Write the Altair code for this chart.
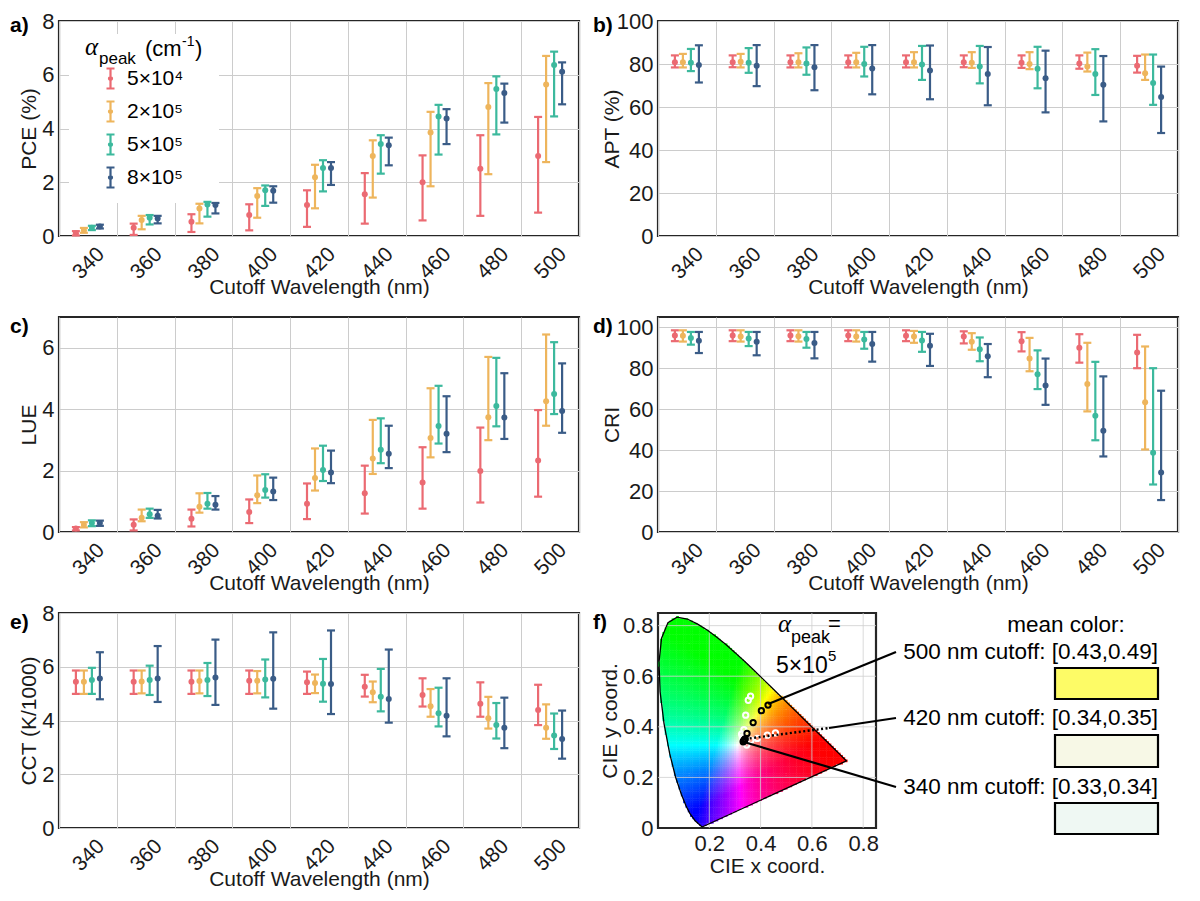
import altair as alt
import numpy as np
import pandas as pd

FONT = "Liberation Sans"

WAVELENGTHS = [340, 360, 380, 400, 420, 440, 460, 480, 500]
ALPHA_LABELS = ["5×10⁴", "2×10⁵", "5×10⁵", "8×10⁵"]
ALPHA_COLORS = ["#EB6A72", "#EEB55C", "#3CB99D", "#3A5C87"]

# one inner list per alpha_peak, in the order of ALPHA_LABELS
PCE_MEAN = [[0.10, 0.31, 0.53, 0.78, 1.15, 1.55, 2.00, 2.50, 2.98],
            [0.21, 0.60, 1.02, 1.49, 2.19, 2.98, 3.85, 4.80, 5.64],
            [0.31, 0.68, 1.17, 1.70, 2.53, 3.42, 4.45, 5.47, 6.36],
            [0.35, 0.65, 1.15, 1.68, 2.53, 3.38, 4.37, 5.32, 6.11]]
PCE_LO = [[0.02, 0.04, 0.15, 0.21, 0.34, 0.46, 0.58, 0.75, 0.87],
          [0.12, 0.25, 0.47, 0.68, 1.03, 1.43, 1.85, 2.30, 2.75],
          [0.22, 0.43, 0.72, 1.12, 1.66, 2.32, 3.03, 3.78, 4.45],
          [0.28, 0.47, 0.84, 1.24, 1.90, 2.63, 3.42, 4.22, 4.90]]
PCE_HI = [[0.18, 0.46, 0.81, 1.18, 1.70, 2.34, 3.00, 3.75, 4.43],
          [0.30, 0.75, 1.20, 1.78, 2.65, 3.56, 4.62, 5.69, 6.70],
          [0.38, 0.78, 1.27, 1.88, 2.82, 3.75, 4.88, 5.94, 6.86],
          [0.42, 0.75, 1.23, 1.85, 2.75, 3.66, 4.72, 5.67, 6.46]]

APT_MEAN = [[80.8, 80.8, 80.8, 80.8, 80.8, 80.8, 80.6, 80.2, 79.2],
            [80.8, 81.0, 80.8, 80.8, 80.8, 80.6, 80.0, 78.8, 75.7],
            [80.6, 80.6, 80.2, 80.0, 79.8, 78.8, 77.8, 75.4, 71.2],
            [79.5, 79.2, 78.5, 77.9, 77.0, 75.3, 73.4, 70.4, 64.7]]
APT_LO = [[78.4, 78.5, 78.4, 78.4, 78.4, 78.5, 78.2, 77.8, 76.0],
          [78.4, 78.4, 78.4, 78.4, 78.4, 78.2, 77.6, 76.5, 72.6],
          [76.7, 75.9, 75.0, 74.2, 72.6, 71.0, 68.7, 65.6, 61.0],
          [71.4, 69.7, 67.8, 65.9, 63.6, 60.8, 57.5, 53.3, 47.9]]
APT_HI = [[84.0, 84.0, 84.0, 84.0, 84.0, 84.0, 84.0, 84.0, 83.8],
          [84.7, 84.7, 85.0, 85.2, 85.5, 85.5, 85.5, 85.3, 84.4],
          [87.0, 87.4, 87.7, 88.0, 88.4, 88.4, 88.0, 86.9, 84.4],
          [88.7, 88.8, 88.8, 88.8, 88.6, 87.9, 86.2, 83.7, 78.8]]

LUE_MEAN = [[0.11, 0.24, 0.43, 0.65, 0.92, 1.26, 1.61, 1.99, 2.33],
            [0.24, 0.46, 0.82, 1.20, 1.76, 2.39, 3.06, 3.74, 4.26],
            [0.29, 0.58, 0.92, 1.37, 2.02, 2.68, 3.45, 4.10, 4.49],
            [0.29, 0.53, 0.89, 1.32, 1.94, 2.55, 3.20, 3.73, 3.94]]
LUE_LO = [[0.05, 0.05, 0.18, 0.29, 0.42, 0.60, 0.76, 0.96, 1.15],
          [0.15, 0.35, 0.63, 0.94, 1.35, 1.89, 2.43, 2.99, 3.46],
          [0.19, 0.46, 0.76, 1.12, 1.66, 2.24, 2.88, 3.44, 3.84],
          [0.20, 0.44, 0.73, 1.04, 1.59, 2.08, 2.60, 3.03, 3.23]]
LUE_HI = [[0.16, 0.41, 0.73, 1.06, 1.58, 2.16, 2.76, 3.40, 3.97],
          [0.32, 0.73, 1.26, 1.84, 2.72, 3.65, 4.68, 5.70, 6.43],
          [0.38, 0.76, 1.27, 1.88, 2.81, 3.70, 4.76, 5.67, 6.18],
          [0.37, 0.72, 1.17, 1.77, 2.65, 3.46, 4.42, 5.17, 5.49]]

CRI_MEAN = [[96.0, 96.0, 96.0, 96.0, 95.8, 95.5, 93.1, 90.0, 87.7],
            [95.8, 95.5, 95.6, 95.5, 95.5, 92.9, 84.7, 72.3, 63.4],
            [94.7, 94.5, 94.2, 94.0, 93.5, 89.2, 77.1, 56.8, 38.7],
            [93.4, 92.9, 92.3, 91.8, 91.0, 85.8, 71.6, 49.4, 29.0]]
CRI_LO = [[93.2, 93.2, 93.2, 93.2, 93.2, 92.1, 88.2, 82.7, 80.0],
          [93.0, 93.0, 93.0, 93.0, 92.4, 89.0, 78.5, 58.9, 40.3],
          [91.5, 90.8, 90.0, 89.5, 88.0, 83.4, 69.8, 44.8, 23.2],
          [87.4, 86.3, 84.8, 83.2, 81.1, 75.6, 62.1, 36.9, 15.6]]
CRI_HI = [[98.5, 98.5, 98.5, 98.5, 98.5, 98.0, 97.6, 96.6, 96.3],
          [98.5, 98.5, 98.5, 98.5, 98.2, 97.1, 94.8, 92.4, 90.6],
          [97.7, 97.7, 97.7, 97.7, 97.7, 95.0, 88.7, 83.1, 80.0],
          [97.7, 97.7, 97.7, 97.7, 96.8, 91.8, 84.7, 76.0, 69.0]]

CCT_MEAN = [[5.44, 5.44, 5.44, 5.48, 5.42, 5.26, 4.95, 4.62, 4.39],
            [5.44, 5.45, 5.47, 5.48, 5.40, 5.05, 4.53, 4.08, 3.73],
            [5.51, 5.51, 5.51, 5.53, 5.37, 4.88, 4.27, 3.83, 3.44],
            [5.56, 5.56, 5.60, 5.55, 5.36, 4.80, 4.18, 3.73, 3.31]]
CCT_LO = [[4.99, 4.99, 4.99, 4.99, 4.99, 4.89, 4.52, 4.14, 3.83],
          [4.99, 5.01, 5.01, 5.01, 5.02, 4.68, 4.14, 3.70, 3.32],
          [4.99, 4.95, 4.91, 4.86, 4.70, 4.34, 3.78, 3.33, 2.94],
          [4.79, 4.69, 4.58, 4.44, 4.24, 3.92, 3.41, 2.97, 2.58]]
CCT_HI = [[5.86, 5.86, 5.86, 5.86, 5.82, 5.70, 5.57, 5.42, 5.33],
          [5.86, 5.86, 5.86, 5.84, 5.71, 5.45, 5.17, 4.88, 4.60],
          [5.96, 6.04, 6.14, 6.27, 6.29, 5.92, 5.22, 4.65, 4.26],
          [6.54, 6.77, 7.01, 7.28, 7.35, 6.64, 5.57, 4.85, 4.37]]

# CIE 1931 spectral locus, 380 -> 700 nm
LOCUS_X = [0.1741, 0.1738, 0.1733, 0.1726, 0.1714, 0.1689, 0.1644, 0.1566, 0.1440, 0.1241,
           0.1096, 0.0913, 0.0687, 0.0454, 0.0235, 0.0082, 0.0039, 0.0139, 0.0389, 0.0743,
           0.1142, 0.1547, 0.1929, 0.2296, 0.2658, 0.3016, 0.3373, 0.3731, 0.4087, 0.4441,
           0.4788, 0.5125, 0.5448, 0.5752, 0.6029, 0.6270, 0.6658, 0.6915, 0.7079, 0.7190,
           0.7260, 0.7300, 0.7334, 0.7347]
LOCUS_Y = [0.0050, 0.0049, 0.0048, 0.0048, 0.0051, 0.0069, 0.0109, 0.0177, 0.0297, 0.0578,
           0.0868, 0.1327, 0.2007, 0.2950, 0.4127, 0.5384, 0.6548, 0.7502, 0.8120, 0.8338,
           0.8262, 0.8059, 0.7816, 0.7543, 0.7243, 0.6923, 0.6589, 0.6245, 0.5896, 0.5547,
           0.5202, 0.4866, 0.4544, 0.4242, 0.3965, 0.3725, 0.3340, 0.3083, 0.2920, 0.2809,
           0.2740, 0.2700, 0.2666, 0.2653]

# mean color per cutoff for alpha_peak = 5e5 (black) and the other runs (white)
CUTOFF_X = [0.332, 0.334, 0.336, 0.338, 0.340, 0.347, 0.371, 0.403, 0.429]
CUTOFF_Y = [0.341, 0.344, 0.347, 0.350, 0.352, 0.374, 0.417, 0.464, 0.486]
OTHER_X = [0.361, 0.352, 0.342, 0.335, 0.326, 0.329, 0.346, 0.362, 0.387, 0.426, 0.458]
OTHER_Y = [0.521, 0.505, 0.446, 0.389, 0.371, 0.360, 0.328, 0.347, 0.354, 0.367, 0.376]

CALLOUT_TEXT = ["500 nm cutoff: [0.43,0.49]", "420 nm cutoff: [0.34,0.35]", "340 nm cutoff: [0.33,0.34]"]
CALLOUT_XY = [(0.43, 0.49), (0.34, 0.352), (0.332, 0.341)]
SWATCH_COLORS = ["#FDFB66", "#F7F8E6", "#EFF8F3"]
CIE_TICKS = [0.2, 0.4, 0.6, 0.8]

PLOT_W = 520
PLOT_H = 215
CIE_W = 218
BAND = PLOT_W / len(WAVELENGTHS)

ERRORBAR_SYMBOL = ("M0,-1V1M-0.4,-1H0.4M-0.4,1H0.4"
                   "M-0.15,0A0.15,0.15,0,1,1,0.15,0A0.15,0.15,0,1,1,-0.15,0")


def note(text, x, y, size, align="left", baseline="alphabetic", **kw):
    return alt.Chart(pd.DataFrame({"t": [text]})).mark_text(
        align=align, baseline=baseline, fontSize=size, font=kw.pop("font", FONT), color="black", **kw
    ).encode(text="t:N", x=alt.value(x), y=alt.value(y))


def errorbar_panel(mean, lo, hi, ytitle, ydomain, yticks, tag, tag_x, tag_y, title_x, with_legend=False):
    rows = []
    for k, label in enumerate(ALPHA_LABELS):
        for i, wl in enumerate(WAVELENGTHS):
            rows.append({"wl": wl, "alpha": label, "mean": mean[k][i], "lo": lo[k][i], "hi": hi[k][i]})
    df = pd.DataFrame(rows)

    x = alt.X("wl:O", scale=alt.Scale(paddingInner=0, paddingOuter=0),
              axis=alt.Axis(title="Cutoff Wavelength (nm)", labelAngle=-45, labelFontSize=21,
                            labelPadding=7, labelOffset=5, tickBand="extent", ticks=False,
                            grid=True, titleY=51, titleBaseline="middle"))
    # four series spaced 8 px apart around the middle of each wavelength band
    xo = alt.XOffset("alpha:N", scale=alt.Scale(domain=ALPHA_LABELS, paddingInner=0, paddingOuter=0,
                                                range=[BAND / 2 - 16, BAND / 2 + 16]))
    yscale = alt.Scale(domain=ydomain, nice=False, zero=False)
    yaxis = alt.Axis(title=ytitle, values=yticks, ticks=False, grid=True, labelPadding=5,
                     titleX=title_x, titleY=PLOT_H / 2, titleBaseline="middle")
    cscale = alt.Scale(domain=ALPHA_LABELS, range=ALPHA_COLORS)

    if with_legend:
        legend = alt.Legend(title=None, orient="none", legendX=40, legendY=46, padding=0,
                            symbolType=ERRORBAR_SYMBOL, symbolSize=400, symbolStrokeWidth=2.2,
                            labelFontSize=21, labelFont=FONT, labelOffset=5, rowPadding=4)
    else:
        legend = None

    base = alt.Chart(df)
    bars = base.mark_rule(strokeWidth=2.2).encode(
        x=x, xOffset=xo, y=alt.Y("lo:Q", scale=yscale, axis=yaxis), y2="hi:Q",
        color=alt.Color("alpha:N", scale=cscale, legend=legend))
    cap_lo = base.mark_tick(size=8, thickness=2.2, opacity=1).encode(
        x=x, xOffset=xo, y=alt.Y("lo:Q", scale=yscale, axis=yaxis),
        color=alt.Color("alpha:N", scale=cscale, legend=None))
    cap_hi = base.mark_tick(size=8, thickness=2.2, opacity=1).encode(
        x=x, xOffset=xo, y=alt.Y("hi:Q", scale=yscale, axis=yaxis),
        color=alt.Color("alpha:N", scale=cscale, legend=None))
    dots = base.mark_circle(size=36, opacity=1).encode(
        x=x, xOffset=xo, y=alt.Y("mean:Q", scale=yscale, axis=yaxis),
        color=alt.Color("alpha:N", scale=cscale, legend=None))

    layers = []
    if with_legend:
        # white box behind the legend hides the grid
        layers.append(alt.Chart(pd.DataFrame({"a": [0]})).mark_rect(color="white").encode(
            x=alt.value(10), x2=alt.value(160), y=alt.value(13), y2=alt.value(182)))
    layers += [bars, cap_lo, cap_hi, dots,
               note(tag, tag_x, tag_y, 21, baseline="middle", fontWeight="bold")]
    if with_legend:
        layers += [
            note("α", 26, 34, 25, font="Liberation Serif", fontStyle="italic"),
            note("peak", 40, 43, 17),
            note("(cm", 86, 35, 22),
            note("-1", 123, 25, 14),
            note(")", 136, 35, 22),
        ]
    return alt.layer(*layers).properties(width=PLOT_W, height=PLOT_H)


def inside_locus(px, py):
    vx = np.array(LOCUS_X)
    vy = np.array(LOCUS_Y)
    inside = np.zeros(px.shape, dtype=bool)
    j = len(vx) - 1
    for i in range(len(vx)):
        crosses = (vy[i] > py) != (vy[j] > py)
        xcut = (vx[j] - vx[i]) * (py - vy[i]) / (vy[j] - vy[i] + 1e-12) + vx[i]
        inside ^= crosses & (px < xcut)
        j = i
    return inside


def gamut_cells(step=0.009):
    gx, gy = np.meshgrid(np.arange(step / 2, 0.75, step), np.arange(step / 2, 0.85, step))
    gx, gy = gx.ravel(), gy.ravel()
    keep = inside_locus(gx, gy)
    gx, gy = gx[keep], gy[keep]
    X = gx / gy
    Z = (1 - gx - gy) / gy
    r = 3.2406 * X - 1.5372 - 0.4986 * Z
    g = -0.9689 * X + 1.8758 + 0.0415 * Z
    b = 0.0557 * X - 0.2040 + 1.0570 * Z
    rgb = np.clip(np.stack([r, g, b]), 0, None)
    rgb = (rgb / rgb.max(axis=0)) ** 2.0
    srgb = np.where(rgb <= 0.0031308, 12.92 * rgb, 1.055 * rgb ** (1 / 2.4) - 0.055)
    ints = np.clip(np.round(srgb * 255), 0, 255).astype(int).T
    hexes = ["#%02x%02x%02x" % tuple(c) for c in ints]
    half = 0.6 * step
    return pd.DataFrame({"x0": gx - half, "x1": gx + half, "y0": gy - half, "y1": gy + half, "c": hexes})


def cie_panel():
    xs = alt.Scale(domain=[0, 0.85], nice=False, zero=False)
    ys = alt.Scale(domain=[0, 0.85], nice=False, zero=False)
    xaxis = alt.Axis(title="CIE x coord.", values=CIE_TICKS, grid=False, ticks=False, labelPadding=5,
                     titleY=38, titleBaseline="middle")
    yaxis = alt.Axis(title="CIE y coord.", values=[0] + CIE_TICKS, grid=False, ticks=False,
                     labelPadding=5, titleX=-48, titleY=PLOT_H / 2, titleBaseline="middle",
                     labelExpr="datum.value == 0 ? '0' : format(datum.value, '.1f')")

    def X(f):
        return alt.X(f, scale=xs, axis=xaxis)

    def Y(f):
        return alt.Y(f, scale=ys, axis=yaxis)

    cells = alt.Chart(gamut_cells()).mark_rect(clip=True).encode(
        x=X("x0:Q"), x2="x1:Q", y=Y("y0:Q"), y2="y1:Q", color=alt.Color("c:N", scale=None))

    ticks_df = pd.DataFrame({"v": CIE_TICKS})
    vgrid = alt.Chart(ticks_df).mark_rule(color="#D0D0D0", strokeWidth=1, opacity=0.8).encode(x=X("v:Q"))
    hgrid = alt.Chart(ticks_df).mark_rule(color="#D0D0D0", strokeWidth=1, opacity=0.8).encode(y=Y("v:Q"))

    lx = LOCUS_X + [LOCUS_X[0]]
    ly = LOCUS_Y + [LOCUS_Y[0]]
    locus = alt.Chart(pd.DataFrame({"x": lx, "y": ly, "i": list(range(len(lx)))})).mark_line(
        color="black", strokeWidth=1.3).encode(x=X("x:Q"), y=Y("y:Q"), order="i:Q")

    white = alt.Chart(pd.DataFrame({"x": OTHER_X, "y": OTHER_Y})).mark_point(
        shape="circle", filled=False, size=28, strokeWidth=2, color="white", opacity=1).encode(
        x=X("x:Q"), y=Y("y:Q"))
    black = alt.Chart(pd.DataFrame({"x": CUTOFF_X, "y": CUTOFF_Y})).mark_point(
        shape="circle", filled=False, size=28, strokeWidth=2, color="black", opacity=1).encode(
        x=X("x:Q"), y=Y("y:Q"))

    text_x = 240
    text_y = [39, 105, 174]
    swatch_y = [(55, 86), (122, 154), (190, 221)]
    layers = [cells, vgrid, hgrid, locus, white]

    # leader lines from the mean colors to their labels
    for k, (cx, cy) in enumerate(CALLOUT_XY):
        pt = alt.Chart(pd.DataFrame({"x": [cx], "y": [cy]}))
        if k == 1:
            bx, by = 171, 115
            layers.append(pt.mark_rule(color="black", strokeWidth=2.4, strokeDash=[2, 2.5]).encode(
                x=X("x:Q"), y=Y("y:Q"), x2=alt.value(bx), y2=alt.value(by)))
            layers.append(pt.mark_rule(color="black", strokeWidth=2.2).encode(
                x=alt.value(bx), y=alt.value(by), x2=alt.value(text_x - 2), y2=alt.value(text_y[k])))
        else:
            layers.append(pt.mark_rule(color="black", strokeWidth=2.2).encode(
                x=X("x:Q"), y=Y("y:Q"), x2=alt.value(text_x - 2), y2=alt.value(text_y[k])))
    layers.append(black)

    layers += [
        note("α", 120, 19, 25, font="Liberation Serif", fontStyle="italic"),
        note("peak", 133, 30, 18),
        note("=", 170, 18, 22),
        note("5×10", 118, 60, 23),
        note("5", 170, 48, 15),
        note("f)", -65, 10, 21, baseline="middle", fontWeight="bold"),
        note("mean color:", 408, 12, 22.5, align="center", baseline="middle"),
    ]
    for k, label in enumerate(CALLOUT_TEXT):
        layers.append(note(label, 500, text_y[k], 22.5, align="right", baseline="middle"))
        y0, y1 = swatch_y[k]
        layers.append(alt.Chart(pd.DataFrame({"c": [SWATCH_COLORS[k]]})).mark_rect(
            stroke="black", strokeWidth=2.2).encode(
            x=alt.value(397), x2=alt.value(500), y=alt.value(y0), y2=alt.value(y1),
            color=alt.Color("c:N", scale=None)))

    return alt.layer(*layers).properties(width=CIE_W, height=PLOT_H)


panel_a = errorbar_panel(PCE_MEAN, PCE_LO, PCE_HI, "PCE (%)", [0, 8], [0, 2, 4, 6, 8],
                         "a)", -49, 5, -30, with_legend=True)
panel_b = errorbar_panel(APT_MEAN, APT_LO, APT_HI, "APT (%)", [0, 100], [0, 20, 40, 60, 80, 100],
                         "b)", -65, 5, -46)
panel_c = errorbar_panel(LUE_MEAN, LUE_LO, LUE_HI, "LUE", [0, 7], [0, 2, 4, 6],
                         "c)", -49, 10, -30)
panel_d = errorbar_panel(CRI_MEAN, CRI_LO, CRI_HI, "CRI", [0, 105], [0, 20, 40, 60, 80, 100],
                         "d)", -65, 10, -46)
panel_e = errorbar_panel(CCT_MEAN, CCT_LO, CCT_HI, "CCT (K/1000)", [0, 8], [0, 2, 4, 6, 8],
                         "e)", -49, 10, -30)
panel_f = cie_panel()

chart = alt.concat(
    panel_a, panel_b, panel_c, panel_d, panel_e, panel_f,
    columns=2, spacing={"row": 81, "column": 79}, bounds="flush",
).properties(
    padding={"left": 0, "top": 0, "right": 2, "bottom": 0}
).configure_view(
    stroke="#262626", strokeWidth=2.2
).configure_axis(
    labelFont=FONT, titleFont=FONT, labelFontSize=22, titleFontSize=21, titleFontWeight="normal",
    labelColor="#1a1a1a", titleColor="#1a1a1a", gridColor="#CCCCCC", gridWidth=1, domain=False
)

chart.save("out.html", embed_options={"renderer": "svg", "actions": False})
